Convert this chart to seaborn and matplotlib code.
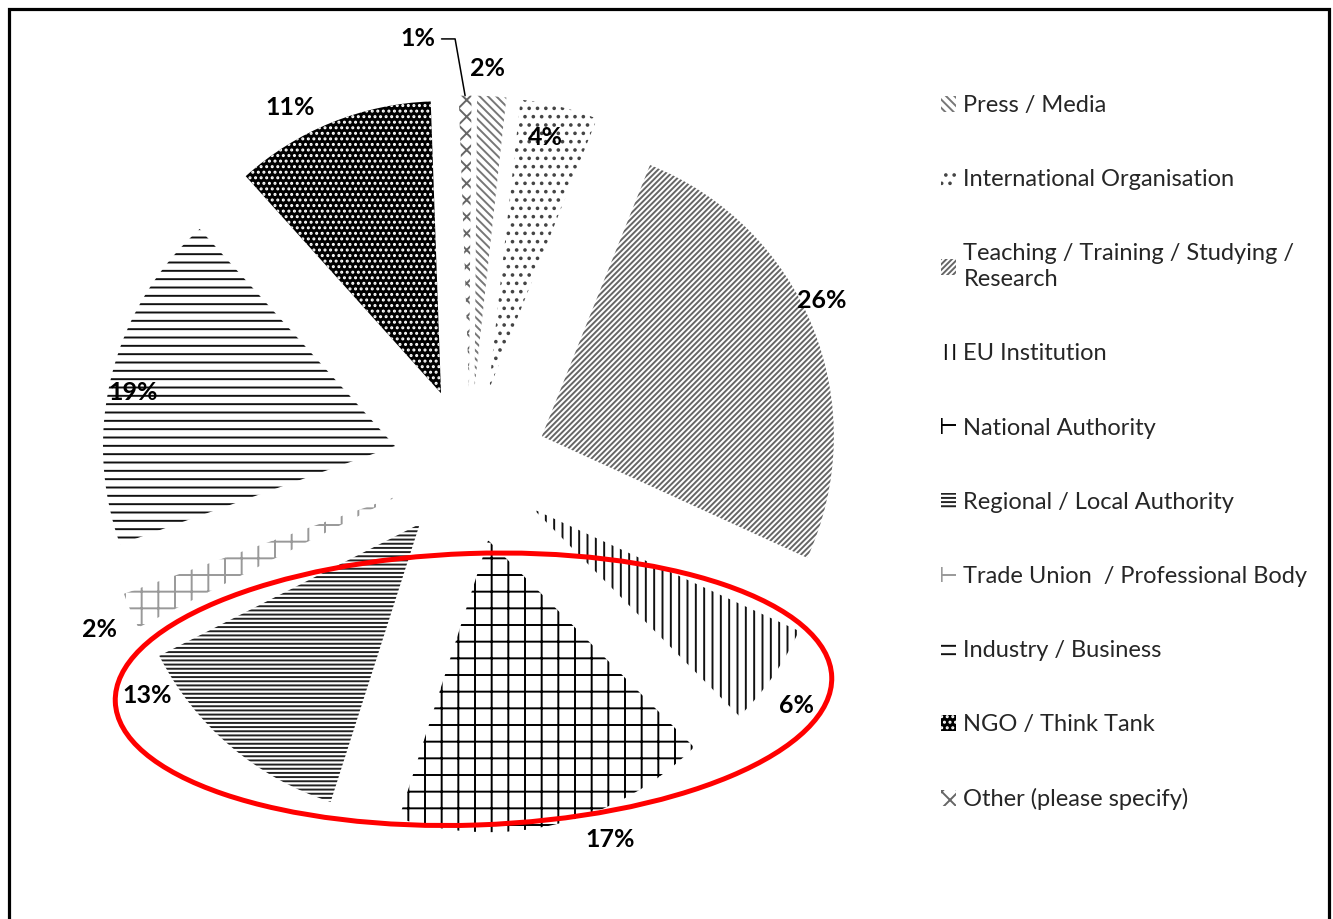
import matplotlib.pyplot as plt
import matplotlib.patches as mpatches
import numpy as np
import seaborn as sns

# Data (legend order)
categories = ["Press / Media", "International Organisation",
              "Teaching / Training / Studying /\nResearch", "EU Institution",
              "National Authority", "Regional / Local Authority",
              "Trade Union  / Professional Body", "Industry / Business",
              "NGO / Think Tank", "Other (please specify)"]
shares = [1.6, 4.3, 25.8, 5.7, 17.4, 12.6, 2.0, 18.8, 11.1, 0.7]

# Styling per slice
hatches = ["\\\\\\\\", "..", "//////", "||", "+", "----", "+", "--", "...", "xx"]
hatch_colors = ["#777777", "#444444", "#666666", "#111111", "#000000",
                "#222222", "#999999", "#111111", "white", "#666666"]
face_colors = ["white"] * 8 + ["black", "white"]
# label placement: radius and angle nudge (deg) relative to slice middle
label_r = [1.36, 1.15, 1.33, 1.39, 1.37, 1.36, 1.39, 1.18, 1.37, 1.47]
label_dang = [0.9, 1.1, 3.3, -1.5, 7, -14, 0.7, 2.1, 4.7, 6.2]

sns.set_theme(style="white")
plt.rcParams["font.family"] = ["Lato", "DejaVu Sans"]
plt.rcParams["hatch.linewidth"] = 1.4

W, H = 1333, 919
fig = plt.figure(figsize=(W / 100, H / 100), dpi=100)
unit = 292.0
cx, cy = 470, 465
half = 450
ax = fig.add_axes([(cx - half) / W, (H - cy - half) / H, 2 * half / W, 2 * half / H])

wedges, _ = ax.pie(shares, startangle=89.5, counterclock=False, radius=1,
                   explode=[0.265] * len(shares), wedgeprops=dict(linewidth=0))
for w, h, c, f in zip(wedges, hatches, hatch_colors, face_colors):
    w.set_facecolor(f)
    w.set_edgecolor(c)
    w.set_hatch(h)

# percentage labels
total = sum(shares)
for i, w in enumerate(wedges):
    mid = np.deg2rad((w.theta1 + w.theta2) / 2 + label_dang[i])
    pos = (label_r[i] * np.cos(mid), label_r[i] * np.sin(mid))
    txt = f"{shares[i] / total * 100:.0f}%"
    if i == len(wedges) - 1:
        m = np.deg2rad((w.theta1 + w.theta2) / 2)
        tip = (w.center[0] + np.cos(m), w.center[1] + np.sin(m))
        ax.annotate(txt, xy=tip, xytext=pos, ha="center", va="center",
                    fontsize=18, fontweight="bold", color="black",
                    arrowprops=dict(arrowstyle="-", color="black", lw=1.1,
                                    shrinkA=2, shrinkB=0,
                                    connectionstyle="angle,angleA=0,angleB=100,rad=0"))
    else:
        ax.text(pos[0], pos[1], txt, ha="center", va="center",
                fontsize=18, fontweight="bold", color="black")

# red highlight ellipse
ax.add_patch(mpatches.Ellipse((0.012, -0.768), 2.455, 0.93, angle=2,
                              fill=False, edgecolor="#ff0000", linewidth=3.6, zorder=5))

ax.set_xlim(-half / unit, half / unit)
ax.set_ylim(-half / unit, half / unit)
ax.set_aspect("equal")
ax.axis("off")

# legend
handles = [mpatches.Patch(facecolor=f, edgecolor=c, hatch=h, linewidth=0)
           for h, c, f in zip(hatches, hatch_colors, face_colors)]
leg = fig.legend(handles, categories, loc="upper left",
                 bbox_to_anchor=(941 / W, 1 - 95 / H), frameon=False,
                 fontsize=17, handlelength=0.65, handleheight=0.65,
                 handletextpad=0.3, labelspacing=2.25, borderpad=0,
                 borderaxespad=0)
for t in leg.get_texts():
    t.set_linespacing(1.3)

# outer frame
fig.add_artist(mpatches.Rectangle((9 / W, -0.02), (1329 - 9) / W, 1.02 - 8.5 / H,
                                  transform=fig.transFigure, fill=False,
                                  edgecolor="black", linewidth=2.3))

fig.savefig("out.png", dpi=100, facecolor="white")
